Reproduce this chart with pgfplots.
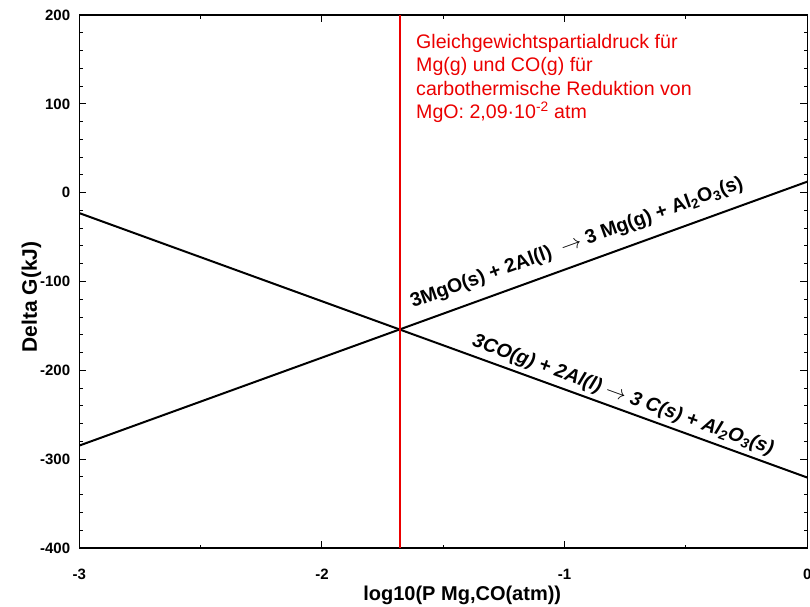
\documentclass[border=0pt]{standalone}
\usepackage{fontspec}
\setmainfont{Liberation Sans}
\usepackage{pgfplots}
\pgfplotsset{compat=1.18}
\definecolor{eqred}{RGB}{235,0,0}
\begin{document}
\begin{tikzpicture}
% page frame around the axis box (axis box: 728 x 533)
\useasboundingbox (-79.3pt,-58pt) rectangle (730.7pt,548pt);
\begin{axis}[
  at={(0pt,0pt)}, anchor=south west,
  width=728pt, height=533pt, scale only axis,
  xmin=-3, xmax=0, ymin=-400, ymax=200,
  xtick={-3,-2,-1,0}, ytick={-400,-300,...,200},
  minor x tick num=1, minor y tick num=4,
  major tick length=7pt, minor tick length=3.5pt,
  tick style={line width=1pt, black},
  axis line style={line width=1.5pt},
  tick align=inside,
  /pgf/number format/assume math mode=true,
  ticklabel style={font=\fontsize{15}{17}\selectfont\bfseries, inner sep=0pt},
  yticklabel style={anchor=east, xshift=-9pt},
  xticklabel style={anchor=north, yshift=-21pt},
  xlabel={log10(P Mg,CO(atm))},
  ylabel={Delta G(kJ)},
  every axis x label/.style={at={(axis description cs:0.526,-0.0994)}, anchor=base,
    inner sep=0pt, font=\fontsize{20}{24}\selectfont\bfseries},
  every axis y label/.style={at={(axis description cs:-0.0581,0.471)}, anchor=base,
    rotate=90, inner sep=0pt, font=\fontsize{21}{24}\selectfont\bfseries},
]
% Delta G of the aluminothermic reduction of MgO
\addplot[draw=black, line width=2pt, mark=none] coordinates {(-3,-284.7) (0,12.4)};
% Delta G of the CO reduction by Al
\addplot[draw=black, line width=2pt, mark=none] coordinates {(-3,-23) (0,-320.7)};
% equilibrium partial pressure, log10(2.09e-2)
\addplot[draw=eqred, line width=1.8pt, mark=none] coordinates {(-1.68,-400) (-1.68,200)};

\node[rotate=19.93, anchor=base west, inner sep=0pt,
      font=\fontsize{19.5}{24}\selectfont\bfseries]
  at (axis cs:-1.625,-129.8)
  {3MgO(s) + 2Al(l)\ \ $\rightarrow$ 3 Mg(g) + Al\textsubscript{2}O\textsubscript{3}(s)};
\node[rotate=-19.94, anchor=base west, inner sep=0pt,
      font=\fontsize{19.5}{24}\selectfont\bfseries\itshape]
  at (axis cs:-1.385,-172.5)
  {3CO(g) + 2Al(l) $\rightarrow$ 3 C(s) + Al\textsubscript{2}O\textsubscript{3}(s)};
\node[anchor=north west, align=left, inner sep=0pt, text=eqred,
      font=\fontsize{19.6}{23.5}\selectfont]
  at (axis cs:-1.6125,178.6)
  {Gleichgewichtspartialdruck für\\
   Mg(g) und CO(g) für\\
   carbothermische Reduktion von\\
   MgO: 2,09·10\textsuperscript{-2} atm};
\end{axis}
\end{tikzpicture}
\end{document}
